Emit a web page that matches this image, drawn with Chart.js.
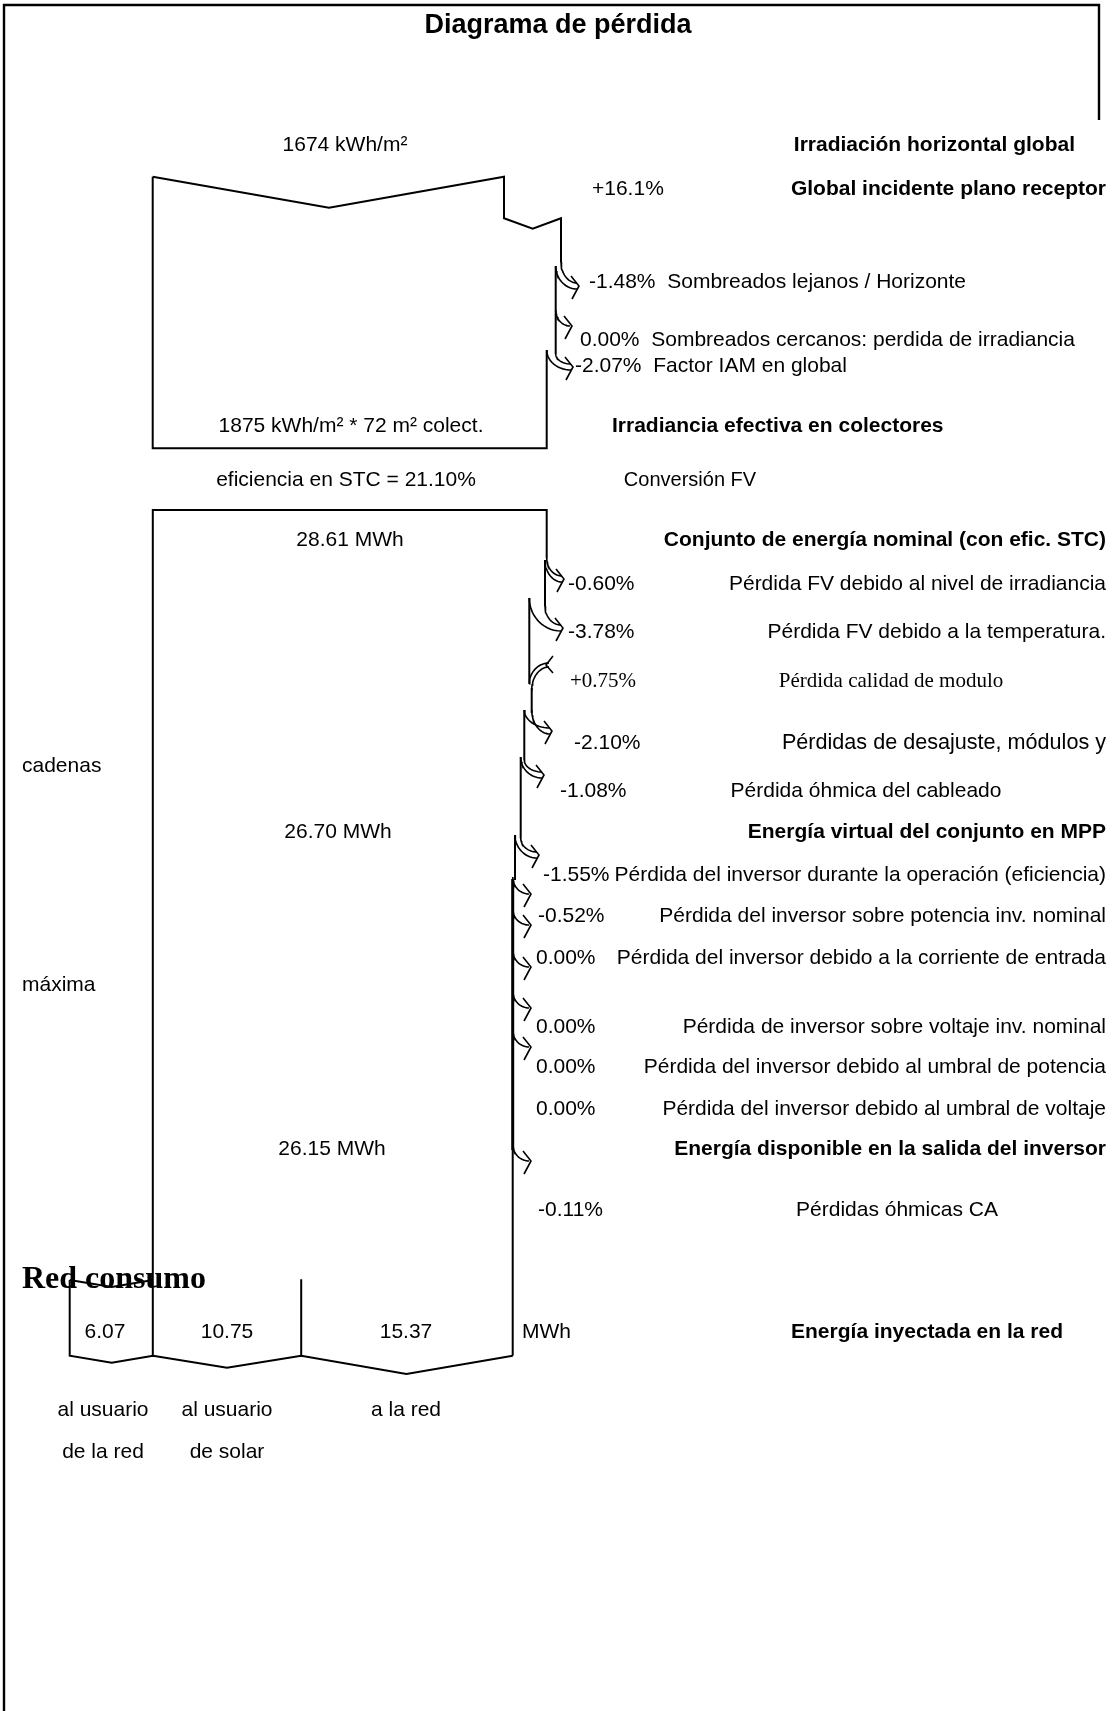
<!DOCTYPE html>
<html><head><meta charset="utf-8">
<script src="https://cdn.jsdelivr.net/npm/chart.js@4/dist/chart.umd.min.js"></script>
<style>html,body{margin:0;padding:0;background:#fff;overflow:hidden}#wrap{width:1113px;height:1711px;position:relative}</style>
</head><body><div id="wrap"><canvas id="c" width="1113" height="1711"></canvas></div>
<script>
// ---------------- DATA ----------------
const title = "Diagrama de pérdida";
const irradiationValues = ["1674 kWh/m²", "1875 kWh/m² * 72 m² colect."];
const irradiationSteps = ["Irradiación horizontal global", "Global incidente plano receptor", "Irradiancia efectiva en colectores"];
const irradianceLossPct = ["+16.1%", "-1.48%", "0.00%", "-2.07%"];
const irradianceLossLabels = ["", "Sombreados lejanos / Horizonte", "Sombreados cercanos: perdida de irradiancia", "Factor IAM en global"];
const conversionLabels = ["eficiencia en STC = 21.10%", "Conversión FV"];
const energyValues = ["28.61 MWh", "26.70 MWh", "26.15 MWh"];
const energySteps = ["Conjunto de energía nominal (con efic. STC)", "Energía virtual del conjunto en MPP", "Energía disponible en la salida del inversor"];
const arrayLossPct = ["-0.60%", "-3.78%", "+0.75%", "-2.10%", "-1.08%"];
const arrayLossLabels = ["Pérdida FV debido al nivel de irradiancia", "Pérdida FV debido a la temperatura.", "Pérdida calidad de modulo", "Pérdidas de desajuste, módulos y", "Pérdida óhmica del cableado"];
const arrayLossWrap = ["", "", "", "cadenas", ""];
const inverterLossPct = ["-1.55%", "-0.52%", "0.00%", "0.00%", "0.00%", "0.00%"];
const inverterLossLabels = ["Pérdida del inversor durante la operación (eficiencia)", "Pérdida del inversor sobre potencia inv. nominal", "Pérdida del inversor debido a la corriente de entrada", "Pérdida de inversor sobre voltaje inv. nominal", "Pérdida del inversor debido al umbral de potencia", "Pérdida del inversor debido al umbral de voltaje"];
const inverterLossWrap = ["", "", "máxima", "", "", ""];
const acLossPct = ["-0.11%"];
const acLossLabels = ["Pérdidas óhmicas CA"];
const gridLabels = ["Red consumo", "Energía inyectada en la red"];
const splitValues = ["6.07", "10.75", "15.37"];
const splitUnit = "MWh";
const splitLabelsTop = ["al usuario", "al usuario", "a la red"];
const splitLabelsBottom = ["de la red", "de solar", ""];

// ---------------- LAYOUT (diagram units) ----------------
const W = 1113, H = 1711;
const SANS = "'Liberation Sans', Arial, sans-serif";
const SERIF = "'Liberation Serif', 'Times New Roman', serif";
const RIGHT = 1106;
const DY = 1.5;

const outlinePaths = [
  { w: 2.4, p: [[4, 1711], [4, 5], [1099, 5], [1099, 120]] },
  { w: 2, p: [[152.7, 176.7], [329, 207.7], [504, 176.7], [504, 218.3], [532.7, 228.7], [561, 218.3], [561, 262]] },
  { w: 2, p: [[555.7, 266], [555.7, 354]] },
  { w: 2, p: [[546.7, 350], [546.7, 448.3], [152.7, 448.3], [152.7, 176.7]] },
  { w: 2, p: [[546.7, 558], [546.7, 510], [152.8, 510], [152.8, 1355.7]] },
  { w: 2, p: [[545, 560], [545, 606]] },
  { w: 2, p: [[529.3, 598], [529.3, 684]] },
  { w: 2, p: [[531.7, 688], [531.7, 713]] },
  { w: 2, p: [[524.3, 710], [524.3, 760]] },
  { w: 2, p: [[520.7, 757], [520.7, 838]] },
  { w: 2, p: [[515, 835], [515, 880]] },
  { w: 3, p: [[512.7, 879], [512.7, 1150]] },
  { w: 2, p: [[512.7, 1150], [512.7, 1355.7]] },
  { w: 2, p: [[69.7, 1280], [111.7, 1287], [153, 1280]] },
  { w: 2, p: [[69.7, 1280], [69.7, 1355.7], [111.7, 1362.7], [153, 1355.7], [227, 1367.7], [301.2, 1355.7], [406.4, 1374], [512.8, 1355.7]] },
  { w: 2, p: [[301.2, 1279.3], [301.2, 1355.7]] }
];

const lossArrows = [
  { s: [[555.7, 266], [561, 262]], t: [578, 286] },
  { s: [[555.7, 310]], t: [571, 326] },
  { s: [[546.7, 350], [555.7, 354]], t: [572, 367] },
  { s: [[545, 560], [546.7, 558]], t: [563, 579] },
  { s: [[529.3, 598], [545, 606]], t: [562, 628] },
  { s: [[531.7, 710], [524.3, 710]], t: [551, 731] },
  { s: [[520.7, 757], [524.3, 760]], t: [543, 775] },
  { s: [[515, 835], [520.7, 838]], t: [538, 855] },
  { s: [[512.7, 877]], t: [530, 894] },
  { s: [[512.7, 909]], t: [530, 925] },
  { s: [[512.7, 950]], t: [530, 967] },
  { s: [[512.7, 991]], t: [530, 1008] },
  { s: [[512.7, 1030]], t: [530, 1047] },
  { s: [[512.7, 1144]], t: [530, 1161] }
];
const gainArrows = [
  { s: [[529.3, 684], [531.7, 690]], t: [549, 665] }
];

function quarter(xs, ys, tx, ty, n) {
  const pts = [];
  for (let i = 0; i <= n; i++) {
    const a = (Math.PI / 2) * i / n;
    pts.push([tx - (tx - xs) * Math.cos(a), ys + (ty - ys) * Math.sin(a)]);
  }
  return pts;
}

const shapes = outlinePaths.map(o => ({ w: o.w, p: o.p }));
lossArrows.forEach(a => {
  a.s.forEach((s, i) => {
    const off = a.s.length > 1 ? (i === 0 ? 3 : -3) : 0;
    shapes.push({ w: 1.6, p: quarter(s[0], s[1], a.t[0] - 1, a.t[1] + off, 14) });
  });
  const [tx, ty] = a.t;
  shapes.push({ w: 1.6, p: [[tx - 7, ty - 10], [tx + 1, ty], [tx - 6, ty + 13]] });
});
gainArrows.forEach(a => {
  a.s.forEach((s, i) => {
    const off = i === 0 ? -2 : 2;
    shapes.push({ w: 1.6, p: quarter(s[0], s[1], a.t[0], a.t[1] + off, 14) });
  });
  const [tx, ty] = a.t;
  shapes.push({ w: 1.6, p: [[tx + 4, ty - 9], [tx - 3, ty], [tx + 4, ty + 8]] });
});

const texts = [];
function T(t, x, y, a, opt) { if (t) texts.push(Object.assign({ t, x, y: y + DY, a }, opt || {})); }
T(title, 558, 24, 'center', { b: true, s: 27 });
T(irradiationValues[0], 345, 144, 'center');
T(irradiationSteps[0], 1075, 144, 'right', { b: true });
T(irradianceLossPct[0], 592, 188, 'left');
T(irradiationSteps[1], RIGHT, 188, 'right', { b: true });
const irrX = [0, 589, 580, 575], irrY = [0, 281, 339, 365];
for (let i = 1; i < 4; i++) T(irradianceLossPct[i] + "  " + irradianceLossLabels[i], irrX[i], irrY[i], 'left');
T(irradiationValues[1], 351, 425, 'center');
T(irradiationSteps[2], 612, 425, 'left', { b: true });
T(conversionLabels[0], 346, 479, 'center');
T(conversionLabels[1], 690, 479, 'center', { s: 20 });
T(energyValues[0], 350, 539, 'center');
T(energySteps[0], RIGHT, 539, 'right', { b: true });
const arrPx = [568, 568, 570, 574, 560], arrY = [583, 631, 680, 742, 790];
arrayLossPct.forEach((p, i) => {
  const serif = p.startsWith('+');
  T(p, arrPx[i], arrY[i], 'left', serif ? { f: SERIF } : {});
  if (i === 2) T(arrayLossLabels[i], 891, arrY[i], 'center', { f: SERIF });
  else if (i === 4) T(arrayLossLabels[i], 866, arrY[i], 'center');
  else T(arrayLossLabels[i], RIGHT, arrY[i], 'right', i === 3 ? { s: 21.6 } : {});
  if (arrayLossWrap[i]) T(arrayLossWrap[i], 22, 765, 'left');
});
T(energyValues[1], 338, 831, 'center');
T(energySteps[1], RIGHT, 831, 'right', { b: true });
const invPx = [543, 538, 536, 536, 536, 536], invY = [874, 915, 957, 1026, 1066, 1108];
inverterLossPct.forEach((p, i) => {
  T(p, invPx[i], invY[i], 'left');
  T(inverterLossLabels[i], RIGHT, invY[i], 'right');
  if (inverterLossWrap[i]) T(inverterLossWrap[i], 22, 984, 'left');
});
T(energyValues[2], 332, 1148, 'center');
T(energySteps[2], RIGHT, 1148, 'right', { b: true });
T(acLossPct[0], 538, 1209, 'left');
T(acLossLabels[0], 897, 1209, 'center');
T(gridLabels[0], 22, 1278, 'left', { f: SERIF, b: true, s: 32 });
const splitX = [105, 227, 406];
splitValues.forEach((v, i) => T(v, splitX[i], 1331, 'center'));
T(splitUnit, 522, 1331, 'left');
T(gridLabels[1], 927, 1331, 'center', { b: true });
const splitLX = [103, 227, 406];
splitLabelsTop.forEach((v, i) => T(v, splitLX[i], 1409, 'center'));
splitLabelsBottom.forEach((v, i) => T(v, splitLX[i], 1451, 'center'));

const textPlugin = {
  id: 'diagramText',
  afterDatasetsDraw(chart) {
    const { ctx, scales: { x, y } } = chart;
    ctx.save();
    ctx.fillStyle = '#000';
    ctx.textBaseline = 'middle';
    texts.forEach(o => {
      ctx.font = (o.b ? 'bold ' : '') + (o.s || 21) + 'px ' + (o.f || SANS);
      ctx.textAlign = o.a;
      ctx.fillText(o.t, x.getPixelForValue(o.x), y.getPixelForValue(o.y));
    });
    ctx.restore();
  }
};

new Chart(document.getElementById('c'), {
  type: 'scatter',
  data: {
    datasets: shapes.map(s => ({
      data: s.p.map(([px, py]) => ({ x: px, y: py })),
      showLine: true,
      borderColor: '#000',
      borderWidth: s.w,
      pointRadius: 0,
      pointHoverRadius: 0,
      tension: 0,
      fill: false,
      clip: false,
      borderJoinStyle: 'miter'
    }))
  },
  options: {
    responsive: false,
    animation: false,
    events: [],
    layout: { padding: 0 },
    plugins: { legend: { display: false }, tooltip: { enabled: false }, title: { display: false } },
    scales: {
      x: { type: 'linear', min: 0, max: W, display: false },
      y: { type: 'linear', min: 0, max: H, reverse: true, display: false }
    }
  },
  plugins: [textPlugin]
});
</script>
</body></html>
